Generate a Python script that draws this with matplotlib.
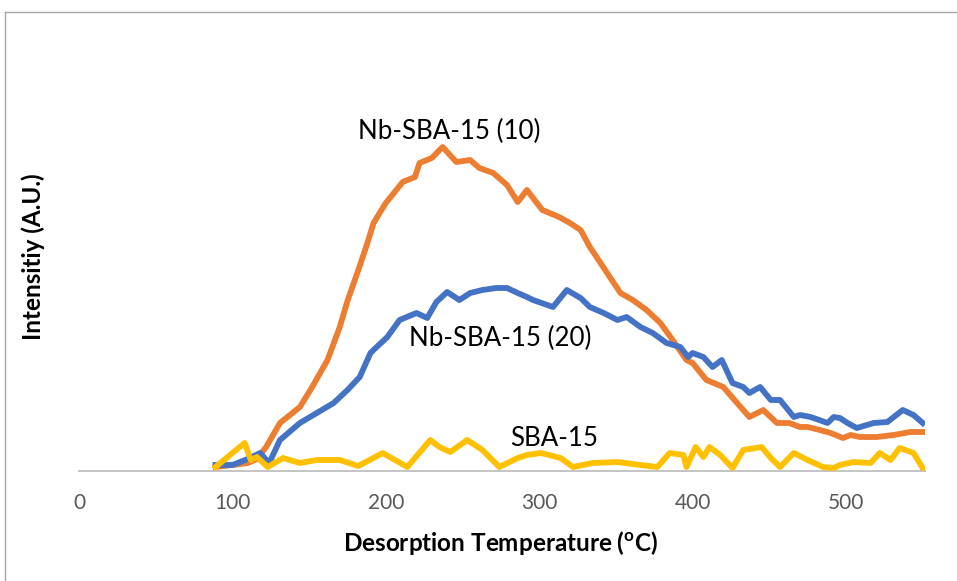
import matplotlib.pyplot as plt
from matplotlib.lines import Line2D

# desorption temperature (C) and signal (a.u.) for each sample
t_nb10 = [89, 100, 110, 116, 122, 131, 144, 152, 162, 170, 175, 183, 188, 192,
          200, 211, 219, 222, 230, 237, 240, 246, 255, 261, 270, 279, 286, 292,
          302, 313, 320, 327, 333, 340, 346, 353, 361, 370, 379, 387, 396, 400,
          409, 420, 429, 437, 446, 455, 463, 470, 475, 483, 490, 498, 503, 509,
          520, 531, 542, 550]
i_nb10 = [4, 6, 8, 12, 24, 48, 64, 84, 111, 144, 170, 205, 228, 248,
          268, 289, 294, 308, 313, 324, 319, 309, 311, 303, 298, 286, 269, 281,
          261, 254, 248, 241, 224, 208, 194, 178, 171, 161, 148, 131, 111, 108,
          91, 84, 68, 54, 61, 48, 48, 44, 44, 41, 38, 33, 36, 34,
          34, 36, 39, 39]

t_nb20 = [89, 100, 110, 118, 124, 131, 144, 155, 166, 175, 183, 190, 192, 201,
          209, 220, 227, 233, 240, 248, 255, 263, 272, 279, 286, 292, 296, 309,
          318, 327, 333, 342, 351, 357, 366, 374, 383, 392, 397, 400, 407, 413,
          419, 426, 433, 437, 444, 451, 457, 466, 470, 477, 488, 492, 496, 501,
          507, 518, 527, 537, 544, 550]
i_nb20 = [6, 6, 12, 18, 8, 31, 48, 58, 68, 81, 94, 118, 121, 134,
          151, 158, 153, 169, 179, 171, 178, 181, 183, 183, 178, 174, 171, 164,
          181, 173, 164, 158, 151, 154, 144, 138, 128, 124, 114, 118, 114, 104,
          111, 88, 84, 78, 84, 71, 71, 54, 56, 54, 48, 54, 53, 48,
          43, 48, 49, 61, 56, 48]

t_sba = [89, 100, 108, 112, 116, 123, 133, 144, 155, 170, 182, 198, 214, 229,
         235, 242, 253, 263, 274, 286, 292, 301, 314, 322, 335, 351, 366, 377,
         385, 394, 396, 402, 407, 411, 418, 426, 433, 445, 451, 457, 466, 475,
         485, 492, 496, 505, 516, 522, 529, 535, 544, 550]
i_sba = [4, 18, 28, 11, 14, 4, 13, 8, 11, 11, 5, 18, 4, 31,
         24, 19, 31, 21, 4, 13, 16, 18, 13, 4, 8, 9, 6, 4,
         18, 16, 4, 24, 14, 24, 16, 3, 21, 24, 13, 4, 18, 11,
         4, 3, 6, 9, 8, 18, 11, 23, 18, 3]

x_ticks = [0, 100, 200, 300, 400, 500]

plt.rcParams['font.family'] = ['Lato', 'DejaVu Sans']
plt.rcParams['mathtext.fontset'] = 'custom'
plt.rcParams['mathtext.rm'] = 'Lato:bold'

fig = plt.figure(figsize=(9.57, 5.81), dpi=100)
ax = fig.add_axes([79 / 957, 110 / 581, 846 / 957, 411 / 581])

lw = 4.2
ax.plot(t_nb10, i_nb10, color='#ED7D31', lw=lw, solid_joinstyle='round')
ax.plot(t_nb20, i_nb20, color='#4472C4', lw=lw, solid_joinstyle='round')
ax.plot(t_sba, i_sba, color='#FFC000', lw=lw, solid_joinstyle='round')

ax.set_xlim(0, 551.5)
ax.set_ylim(0, 411)
ax.set_xticks(x_ticks)
ax.set_yticks([])
ax.tick_params(axis='x', length=0, pad=16, labelsize=15, labelcolor='#595959')
for s in ['top', 'right', 'left']:
    ax.spines[s].set_visible(False)
ax.spines['bottom'].set_color('#BFBFBF')
ax.spines['bottom'].set_linewidth(1.3)
ax.spines['bottom'].set_zorder(0)

ax.text(241, 340, 'Nb-SBA-15 (10)', fontsize=18.6, ha='center', va='center')
ax.text(274.5, 133, 'Nb-SBA-15 (20)', fontsize=18.6, ha='center', va='center')
ax.text(309.6, 33, 'SBA-15', fontsize=18.6, ha='center', va='center')

fig.text(501 / 957, 1 - 543 / 581, r'Desorption Temperature ($^{\mathrm{o}}$C)',
         fontsize=17.5, fontweight='bold', ha='center', va='center')
fig.text(33 / 957, 1 - 257 / 581, 'Intensitiy (A.U.)', fontsize=17.5,
         fontweight='bold', rotation=90, ha='center', va='center')

# chart frame
fig.add_artist(Line2D([5 / 957, 5 / 957], [0, 1 - 12 / 581], color='#A6A6A6', lw=1))
fig.add_artist(Line2D([5 / 957, 1], [1 - 12 / 581, 1 - 12 / 581], color='#A6A6A6', lw=1))

fig.savefig('out.png', dpi=100)
